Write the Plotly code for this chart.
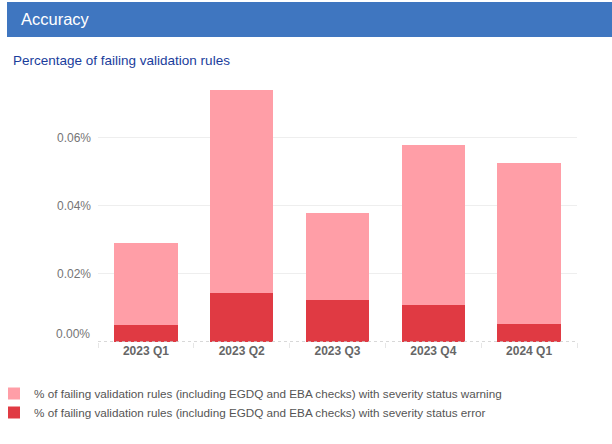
import plotly.graph_objects as go

quarters = ["2023 Q1", "2023 Q2", "2023 Q3", "2023 Q4", "2024 Q1"]
error_pct = [0.0050, 0.0144, 0.0124, 0.0109, 0.0053]
warning_pct = [0.0241, 0.0597, 0.0255, 0.0470, 0.0473]
y_ticks = [0.0, 0.02, 0.04, 0.06]

name_warning = "% of failing validation rules (including EGDQ and EBA checks) with severity status warning"
name_error = "% of failing validation rules (including EGDQ and EBA checks) with severity status error"

# plot area in pixels
L, R, T, B = 98, 35, 80, 102
W, H = 612, 444
pw, ph = W - L - R, H - T - B

def px(x):
    return (x - L) / pw

def py(y):
    return (H - B - y) / ph

fig = go.Figure()
fig.add_trace(go.Bar(x=quarters, y=error_pct, name=name_error, marker_color="#e03a43",
                     marker_line_width=0))
fig.add_trace(go.Bar(x=quarters, y=warning_pct, name=name_warning, marker_color="#ff9ea7",
                     marker_line_width=0))

font = "Liberation Sans, Arial, sans-serif"
tick_text = ["" if v == 0 else f"{v:.2f}%" for v in y_ticks]
fig.update_layout(
    width=W, height=H,
    margin=dict(l=L, r=R, t=T, b=B, autoexpand=False),
    barmode="stack", bargap=0.34,
    plot_bgcolor="white", paper_bgcolor="white",
    font=dict(family=font, color="#666666"),
    showlegend=True,
    legend=dict(orientation="v", x=px(-6), y=py(379), xanchor="left", yanchor="top",
                traceorder="reversed", font=dict(size=11.7, color="#555555"),
                itemwidth=30, tracegroupgap=0, bgcolor="rgba(0,0,0,0)"),
    xaxis=dict(showgrid=False, ticks="outside", tickson="boundaries", ticklen=5,
               tickcolor="#e6e6e6", showline=False,
               tickfont=dict(size=12, color="#666666", family=font, weight="bold")),
    yaxis=dict(range=[0, 0.077], tickvals=y_ticks, ticktext=tick_text,
               showgrid=True, gridcolor="#eeeeee", zeroline=False,
               tickfont=dict(size=12, color="#757575"), ticklabelstandoff=6),
    shapes=[
        dict(type="rect", xref="paper", yref="paper", x0=px(7), x1=px(612), y0=py(37), y1=py(2),
             fillcolor="#3f76c0", line_width=0, layer="below"),
        dict(type="line", xref="paper", yref="y", x0=0, x1=1, y0=0, y1=0,
             line=dict(color="#cccccc", width=1.5, dash="dot")),
    ],
    annotations=[
        dict(text="Accuracy", xref="paper", yref="paper", x=px(19), y=py(19), xanchor="left",
             yanchor="middle", showarrow=False, font=dict(size=16.5, color="white", family=font)),
        dict(text="Percentage of failing validation rules", xref="paper", yref="paper",
             x=px(11), y=py(60), xanchor="left", yanchor="middle", showarrow=False,
             font=dict(size=13.5, color="#1a3d9c", family=font)),
        dict(text=f"{y_ticks[0]:.2f}%", xref="paper", yref="y", x=px(92), y=y_ticks[0],
             xanchor="right", yanchor="middle", yshift=8, showarrow=False,
             font=dict(size=12, color="#757575", family=font)),
    ],
)

fig.write_html("out.html", config={"displayModeBar": False},
               post_script="document.body.style.margin='0';")
